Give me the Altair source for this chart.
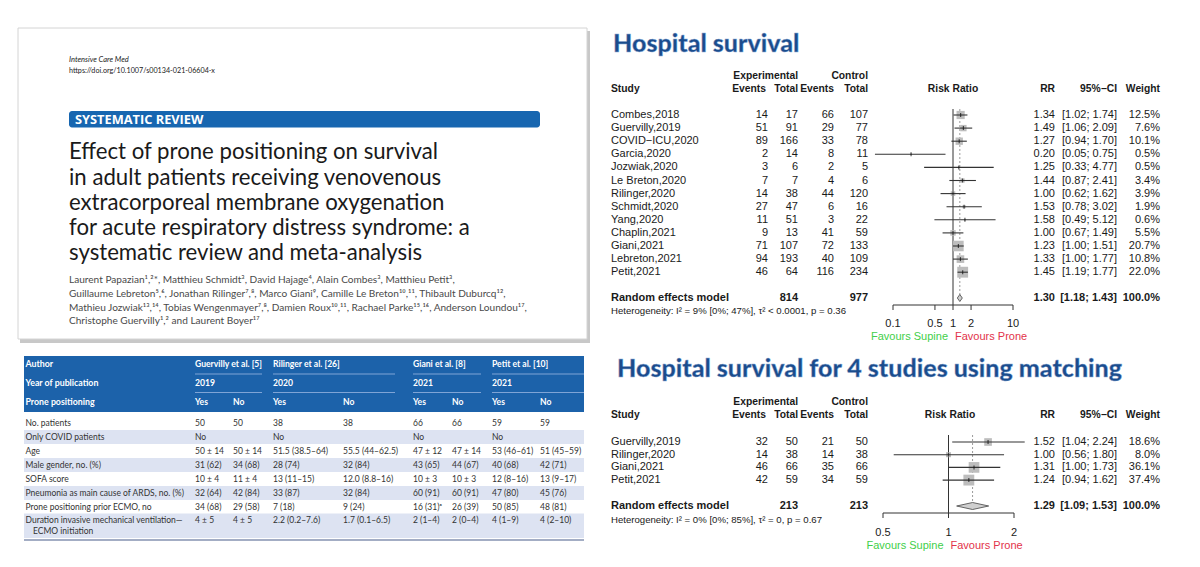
import altair as alt
import pandas as pd

# ---------------- paper page ----------------
journal = "Intensive Care Med"
doi = "https://doi.org/10.1007/s00134-021-06604-x"
section = "SYSTEMATIC REVIEW"
title_lines = [
    "Effect of prone positioning on survival",
    "in adult patients receiving venovenous",
    "extracorporeal membrane oxygenation",
    "for acute respiratory distress syndrome: a",
    "systematic review and meta-analysis",
]
author_lines = [
    "Laurent Papazian¹,²*, Matthieu Schmidt³, David Hajage⁴, Alain Combes³, Matthieu Petit³,",
    "Guillaume Lebreton⁵,⁶, Jonathan Rilinger⁷,⁸, Marco Giani⁹, Camille Le Breton¹⁰,¹¹, Thibault Duburcq¹²,",
    "Mathieu Jozwiak¹³,¹⁴, Tobias Wengenmayer⁷,⁸, Damien Roux¹⁰,¹¹, Rachael Parke¹⁵,¹⁶, Anderson Loundou¹⁷,",
    "Christophe Guervilly¹,² and Laurent Boyer¹⁷",
]

# ---------------- table ----------------
tbl_head = ["Author", "Year of publication", "Prone positioning"]
tbl_authors = ["Guervilly et al. [5]", "Rilinger et al. [26]", "Giani et al. [8]", "Petit et al. [10]"]
tbl_years = ["2019", "2020", "2021", "2021"]
tbl_prone = ["Yes", "No", "Yes", "No", "Yes", "No", "Yes", "No"]
tbl_labels = ["No. patients", "Only COVID patients", "Age", "Male gender, no. (%)", "SOFA score",
              "Pneumonia as main cause of ARDS, no. (%)", "Prone positioning prior ECMO, no",
              "Duration invasive mechanical ventilation—"]
tbl_label_cont = "ECMO initiation"
tbl_patients = ["50", "50", "38", "38", "66", "66", "59", "59"]
tbl_covid = ["No", "", "No", "", "No", "", "No", ""]
tbl_age = ["50 ± 14", "50 ± 14", "51.5 (38.5–64)", "55.5 (44–62.5)", "47 ± 12", "47 ± 14", "53 (46–61)", "51 (45–59)"]
tbl_male = ["31 (62)", "34 (68)", "28 (74)", "32 (84)", "43 (65)", "44 (67)", "40 (68)", "42 (71)"]
tbl_sofa = ["10 ± 4", "11 ± 4", "13 (11–15)", "12.0 (8.8–16)", "10 ± 3", "10 ± 3", "12 (8–16)", "13 (9–17)"]
tbl_pneumonia = ["32 (64)", "42 (84)", "33 (87)", "32 (84)", "60 (91)", "60 (91)", "47 (80)", "45 (76)"]
tbl_prone_prior = ["34 (68)", "29 (58)", "7 (18)", "9 (24)", "16 (31)ᵃ", "26 (39)", "50 (85)", "48 (81)"]
tbl_duration = ["4 ± 5", "4 ± 5", "2.2 (0.2–7.6)", "1.7 (0.1–6.5)", "2 (1–4)", "2 (0–4)", "4 (1–9)", "4 (2–10)"]

# ---------------- forest plot 1 ----------------
title1 = "Hospital survival"
study1 = ["Combes,2018", "Guervilly,2019", "COVID−ICU,2020", "Garcia,2020", "Jozwiak,2020",
          "Le Breton,2020", "Rilinger,2020", "Schmidt,2020", "Yang,2020", "Chaplin,2021",
          "Giani,2021", "Lebreton,2021", "Petit,2021"]
exp_events1 = [14, 51, 89, 2, 3, 7, 14, 27, 11, 9, 71, 94, 46]
exp_total1 = [17, 91, 166, 14, 6, 7, 38, 47, 51, 13, 107, 193, 64]
ctl_events1 = [66, 29, 33, 8, 2, 4, 44, 6, 3, 41, 72, 40, 116]
ctl_total1 = [107, 77, 78, 11, 5, 6, 120, 16, 22, 59, 133, 109, 234]
rr1 = [1.34, 1.49, 1.27, 0.20, 1.25, 1.44, 1.00, 1.53, 1.58, 1.00, 1.23, 1.33, 1.45]
lo1 = [1.02, 1.06, 0.94, 0.05, 0.33, 0.87, 0.62, 0.78, 0.49, 0.67, 1.00, 1.00, 1.19]
hi1 = [1.74, 2.09, 1.70, 0.75, 4.77, 2.41, 1.62, 3.02, 5.12, 1.49, 1.51, 1.77, 1.77]
weight1 = [12.5, 7.6, 10.1, 0.5, 0.5, 3.4, 3.9, 1.9, 0.6, 5.5, 20.7, 10.8, 22.0]
pooled1 = [1.30, 1.18, 1.43]
totals1 = [814, 977]
het1 = "Heterogeneity: I² = 9% [0%; 47%], τ² < 0.0001, p = 0.36"
ticks1 = [0.1, 0.5, 1, 2, 10]

# ---------------- forest plot 2 ----------------
title2 = "Hospital survival for 4 studies using matching"
study2 = ["Guervilly,2019", "Rilinger,2020", "Giani,2021", "Petit,2021"]
exp_events2 = [32, 14, 46, 42]
exp_total2 = [50, 38, 66, 59]
ctl_events2 = [21, 14, 35, 34]
ctl_total2 = [50, 38, 66, 59]
rr2 = [1.52, 1.00, 1.31, 1.24]
lo2 = [1.04, 0.56, 1.00, 0.94]
hi2 = [2.24, 1.80, 1.73, 1.62]
weight2 = [18.6, 8.0, 36.1, 37.4]
pooled2 = [1.29, 1.09, 1.53]
totals2 = [213, 213]
het2 = "Heterogeneity: I² = 0% [0%; 85%], τ² = 0, p = 0.67"
ticks2 = [0.5, 1, 2]

fav_left = "Favours Supine"
fav_right = "Favours Prone"

# =============== layout helpers ===============
W, H = 1184, 551
XS = alt.Scale(domain=[8, 8 + W], range=[0, W], nice=False, zero=False)
YS = alt.Scale(domain=[8, 8 + H], range=[0, H], nice=False, zero=False)


def enc_xy(xscale=XS, xfield="x"):
    return dict(x=alt.X(f"{xfield}:Q", scale=xscale, axis=None),
                y=alt.Y("y:Q", scale=YS, axis=None))


def tx(df, size, color="#222222", align="left", font="Lato", weight="normal",
       style="normal", baseline="middle", xscale=XS, dx=0, **extra):
    return alt.Chart(pd.DataFrame(df)).mark_text(
        align=align, baseline=baseline, font=font, fontSize=size, fontWeight=weight,
        fontStyle=style, color=color, dx=dx, **extra
    ).encode(text="text:N", **enc_xy(xscale))


def rect(df, **kw):
    return alt.Chart(pd.DataFrame(df)).mark_rect(**kw).encode(
        x2="x2:Q", y2="y2:Q", **enc_xy())


def hrule(df, xscale=XS, **kw):
    return alt.Chart(pd.DataFrame(df)).mark_rule(**kw).encode(
        x2="x2:Q", **enc_xy(xscale))


def vrule(df, xscale=XS, **kw):
    return alt.Chart(pd.DataFrame(df)).mark_rule(**kw).encode(
        y2="y2:Q", **enc_xy(xscale))


layers = []

# =============== paper page ===============
layers.append(rect({"x": [20], "x2": [590], "y": [31], "y2": [343]}, color="#9a9a9a", opacity=0.55))
layers.append(rect({"x": [18], "x2": [587], "y": [28], "y2": [339]}, fill="white", stroke="#d4d4d4", strokeWidth=1))
layers.append(tx({"x": [69], "y": [60], "text": [journal]}, 7.5, color="#222", style="italic"))
layers.append(tx({"x": [69], "y": [71], "text": [doi]}, 7.2, color="#222"))
layers.append(rect({"x": [69], "x2": [540], "y": [111], "y2": [127.5]}, color="#1766b0", cornerRadius=3))
layers.append(tx({"x": [75], "y": [119.8], "text": [section]}, 12.8, color="white", weight="bold", font="Open Sans"))
layers.append(tx({"x": [69] * 5, "y": [152, 177.5, 203, 228, 253], "text": title_lines}, 22.2, color="#1a1a1a"))
layers.append(tx({"x": [69] * 4, "y": [280, 294, 307.5, 321], "text": author_lines}, 10.1, color="#4a4a4a"))

# =============== table ===============
col_x = [195, 233, 273, 343, 413, 452, 492, 540]
grp_x = [195, 273, 413, 492]
grp_end = [262, 395, 481, 584]
row_y = [423, 437, 451, 465, 479, 493, 506.5, 520]
tx_left, tx_right = 24, 584
layers.append(rect({"x": [tx_left], "x2": [tx_right], "y": [356], "y2": [412]}, color="#1c62aa"))
layers.append(rect({"x": [tx_left] * 4, "x2": [tx_right] * 4,
                    "y": [430, 458, 486, 513.5], "y2": [444, 472, 500, 538]}, color="#dde3f2"))
layers.append(hrule({"x": grp_x * 2, "x2": grp_end * 2, "y": [374] * 4 + [392.5] * 4},
                    color="#7fa4d6", strokeWidth=1))
layers.append(hrule({"x": [tx_left], "x2": [tx_right], "y": [540]}, color="#8492b0", strokeWidth=1.5))
layers.append(tx({"x": [25.5] * 3, "y": [364, 383, 402], "text": tbl_head}, 8.8, color="white", weight="bold"))
layers.append(tx({"x": grp_x, "y": [364] * 4, "text": tbl_authors}, 8.6, color="white", weight="bold"))
layers.append(tx({"x": grp_x, "y": [383] * 4, "text": tbl_years}, 8.6, color="white", weight="bold"))
layers.append(tx({"x": col_x, "y": [402] * 8, "text": tbl_prone}, 8.6, color="white", weight="bold"))
layers.append(tx({"x": [25.5] * 8 + [33], "y": row_y + [531], "text": tbl_labels + [tbl_label_cont]},
                 8.5, color="#333333"))
tbl_rows = [tbl_patients, tbl_covid, tbl_age, tbl_male, tbl_sofa, tbl_pneumonia, tbl_prone_prior, tbl_duration]
cx, cy, ct = [], [], []
for yy, vals in zip(row_y, tbl_rows):
    for xx, v in zip(col_x, vals):
        cx.append(xx); cy.append(yy); ct.append(v)
layers.append(tx({"x": cx, "y": cy, "text": ct}, 8.5, color="#333333"))


# =============== forest plots ===============
def forest(title, study, ee, et, ce, ct_, rr, lo, hi, w, pooled, totals, het, ticks, c):
    out = []
    ls = alt.Scale(type="log", domain=[ticks[0], ticks[-1]], range=[c["px0"] - 8, c["px1"] - 8], nice=False)
    f = "Liberation Sans"
    ys = [c["y0"] + i * c["dy"] for i in range(len(study))]
    # title
    out.append(tx({"x": [c["tx"]], "y": [c["ty"]], "text": [title]}, 25, color="#1b4c8c",
                  weight=900, font="Lato", baseline="alphabetic", stroke="#8fb0da", strokeWidth=0.4))
    # headers
    out.append(tx({"x": [798, 868], "y": [c["yh1"]] * 2, "text": ["Experimental", "Control"]},
                  10.3, color="#1a1a1a", align="right", font=f, weight="bold"))
    out.append(tx({"x": [766, 798, 834, 868, 1055, 1117, 1160], "y": [c["yh2"]] * 7,
                   "text": ["Events", "Total", "Events", "Total", "RR", "95%−CI", "Weight"]},
                  10.3, color="#1a1a1a", align="right", font=f, weight="bold"))
    out.append(tx({"x": [611], "y": [c["yh2"]], "text": ["Study"]}, 10.3, color="#1a1a1a", font=f, weight="bold"))
    out.append(tx({"x": [c["xrr"]], "y": [c["yh2"]], "text": ["Risk Ratio"]}, 10.3, color="#1a1a1a",
                  align="center", font=f, weight="bold"))
    # study rows
    out.append(tx({"x": [611] * len(study), "y": ys, "text": study}, 11, color="#1a1a1a", font=f))
    rx, ry, rt = [], [], []
    cols = [(768, [str(v) for v in ee]), (798, [str(v) for v in et]),
            (834, [str(v) for v in ce]), (868, [str(v) for v in ct_]),
            (1055, [f"{v:.2f}" for v in rr]),
            (1117, [f"[{a:.2f}; {b:.2f}]" for a, b in zip(lo, hi)]),
            (1160, [f"{v:.1f}%" for v in w])]
    for xx, vals in cols:
        rx += [xx] * len(vals); ry += ys; rt += vals
    out.append(tx({"x": rx, "y": ry, "text": rt}, 11, color="#1a1a1a", align="right", font=f))
    # pooled row
    out.append(tx({"x": [611], "y": [c["yp"]], "text": ["Random effects model"]}, 11, color="#1a1a1a",
                  font=f, weight="bold"))
    out.append(tx({"x": [798, 868, 1055, 1117, 1160], "y": [c["yp"]] * 5,
                   "text": [str(totals[0]), str(totals[1]), f"{pooled[0]:.2f}",
                            f"[{pooled[1]:.2f}; {pooled[2]:.2f}]", "100.0%"]},
                  11, color="#1a1a1a", align="right", font=f, weight="bold"))
    out.append(tx({"x": [611], "y": [c["yhet"]], "text": [het]}, 9.6, color="#1a1a1a", font=f))
    # reference lines
    out.append(vrule({"x": [pooled[0]], "y": [c["yv"]], "y2": [c["ydot"]]}, xscale=ls,
                     color="#9a9a9a", strokeDash=[2, 2], strokeWidth=1))
    out.append(vrule({"x": [1], "y": [c["yv"]], "y2": [c["ya"]]}, xscale=ls, color="#333333", strokeWidth=1))
    # CI, squares, estimate ticks
    dfr = {"x": rr, "lo": lo, "hi": hi, "w": w, "y": ys}
    out.append(alt.Chart(pd.DataFrame(dfr)).mark_square(color="#bdbdbd", opacity=1).encode(
        size=alt.Size("w:Q", scale=alt.Scale(domain=[0, max(w)], range=[0, 118]), legend=None),
        **enc_xy(ls)))
    out.append(alt.Chart(pd.DataFrame(dfr)).mark_rule(color="#333333", strokeWidth=1.1).encode(
        x=alt.X("lo:Q", scale=ls, axis=None), x2="hi:Q", y=alt.Y("y:Q", scale=YS, axis=None)))
    out.append(alt.Chart(pd.DataFrame(dfr)).mark_tick(orient="vertical", color="#111111", size=4,
                                                      thickness=1.2).encode(**enc_xy(ls)))
    # diamond
    h = c["dh"]
    dfd = {"x": [pooled[1], pooled[0], pooled[2]], "y": [c["yp"], c["yp"] - h, c["yp"]],
           "y2": [c["yp"], c["yp"] + h, c["yp"]]}
    out.append(alt.Chart(pd.DataFrame(dfd)).mark_area(fill="#cfcfcf", stroke="#555555", strokeWidth=0.9).encode(
        y2="y2:Q", **enc_xy(ls)))
    # axis
    out.append(hrule({"x": [ticks[0]], "x2": [ticks[-1]], "y": [c["ya"]]}, xscale=ls, color="#333333",
                     strokeWidth=1))
    out.append(vrule({"x": ticks, "y": [c["ya"]] * len(ticks), "y2": [c["ya"] + 5] * len(ticks)}, xscale=ls,
                     color="#333333", strokeWidth=1))
    out.append(tx({"x": ticks, "y": [c["ytl"]] * len(ticks), "text": [f"{t:g}" for t in ticks]}, 11,
                  color="#1a1a1a", align="center", font=f, xscale=ls))
    out.append(tx({"x": [1], "y": [c["yf"]], "text": [fav_left]}, 11, color="#3fcf4a", align="right",
                  font=f, xscale=ls, dx=-5))
    out.append(tx({"x": [1], "y": [c["yf"]], "text": [fav_right]}, 11, color="#e2334a", align="left",
                  font=f, xscale=ls, dx=2))
    return out


cfg1 = dict(tx=613, ty=52, yh1=76, yh2=89, y0=115, dy=13.1, yp=298, yhet=311, ya=305, ytl=324, yf=337,
            yv=109, ydot=300, px0=893, px1=1013, xrr=953, dh=3.5)
cfg2 = dict(tx=617, ty=377, yh1=402, yh2=415, y0=442, dy=12.7, yp=506, yhet=520, ya=513, ytl=533, yf=546,
            yv=435, ydot=502, px0=883, px1=1014, xrr=950, dh=3.5)

layers += forest(title1, study1, exp_events1, exp_total1, ctl_events1, ctl_total1, rr1, lo1, hi1, weight1,
                 pooled1, totals1, het1, ticks1, cfg1)
layers += forest(title2, study2, exp_events2, exp_total2, ctl_events2, ctl_total2, rr2, lo2, hi2, weight2,
                 pooled2, totals2, het2, ticks2, cfg2)

chart = alt.layer(*layers).resolve_scale(x="independent", size="independent").properties(
    width=W, height=H, autosize=alt.AutoSizeParams(type="none"), padding=0, background="white"
).configure_view(stroke=None)

chart.save("out.html", embed_options={"renderer": "svg", "actions": False})
